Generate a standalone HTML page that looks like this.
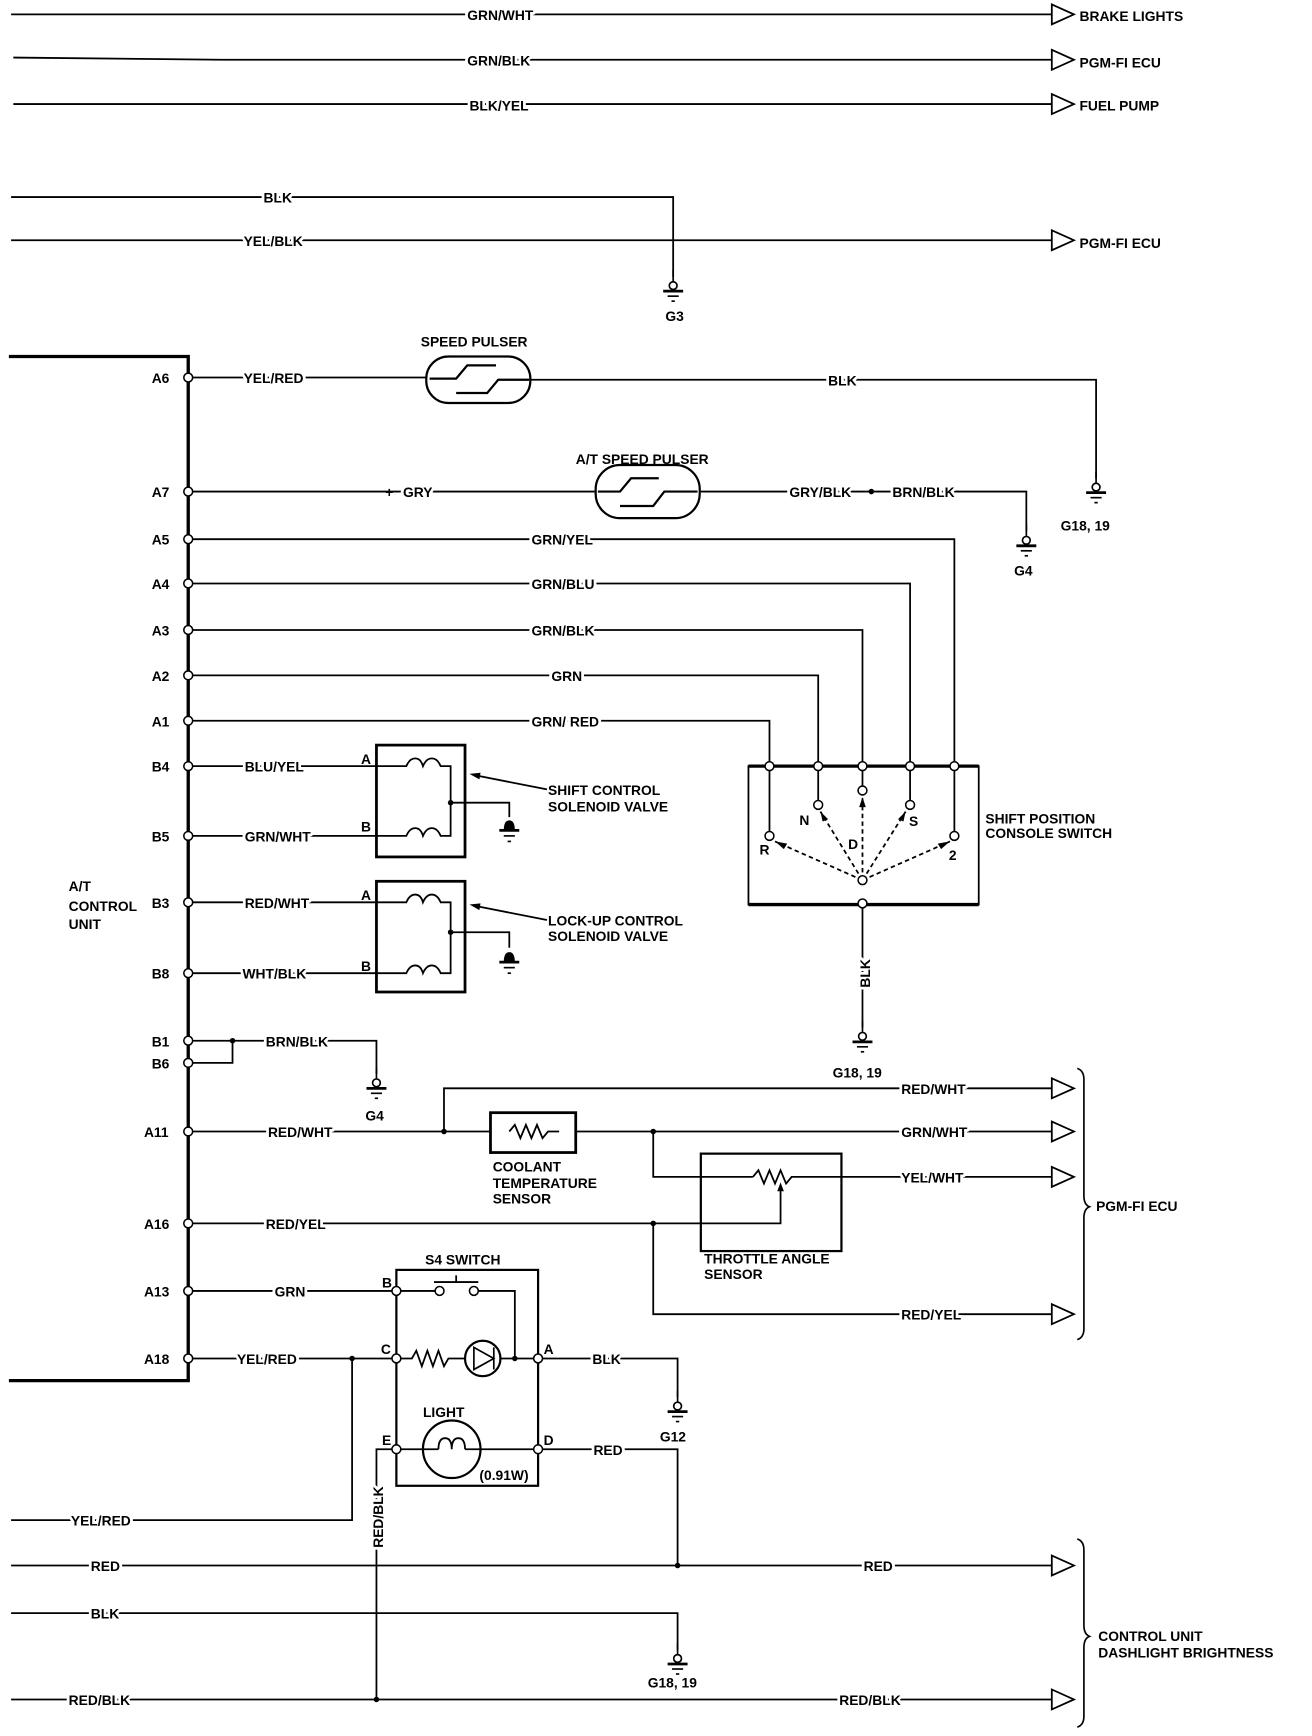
<!DOCTYPE html>
<html><head><meta charset="utf-8"><style>
html,body{margin:0;padding:0;background:#fff;}
svg{display:block;}
text{font-family:"Liberation Sans",sans-serif;font-weight:bold;font-size:12.5px;fill:#000;}
text.l{paint-order:stroke;stroke:#fff;stroke-width:5px;stroke-linejoin:round;}
</style></head><body>
<svg width="1312" height="1736" viewBox="0 0 1185 1568" xmlns="http://www.w3.org/2000/svg">
<defs>
<g id="gnd"><line x1="0" y1="-14" x2="0" y2="-4" stroke="#000" stroke-width="1.5"/><circle cx="0" cy="0" r="3.5" fill="#fff" stroke="#000" stroke-width="1.5"/><line x1="-9" y1="5" x2="9" y2="5" stroke="#000" stroke-width="2.5"/><line x1="-5" y1="9.5" x2="5" y2="9.5" stroke="#000" stroke-width="1.5"/><line x1="-1.5" y1="14" x2="1.5" y2="14" stroke="#000" stroke-width="1.5"/></g>
<g id="gnd2"><path d="M-5 5 Q-5 -4 0 -4 Q5 -4 5 5 Z" fill="#000"/><line x1="-9" y1="5" x2="9" y2="5" stroke="#000" stroke-width="2.5"/><line x1="-5" y1="10" x2="5" y2="10" stroke="#000" stroke-width="1.5"/><line x1="-1.5" y1="15" x2="1.5" y2="15" stroke="#000" stroke-width="1.5"/></g>
<polygon id="arr" points="0,-9 20,0 0,9" fill="#fff" stroke="#000" stroke-width="1.6"/>
<circle id="pin" r="4" fill="#fff" stroke="#000" stroke-width="1.4"/>
<circle id="dot" r="2.5" fill="#000"/>
</defs>
<g stroke="#000" stroke-width="1.6" fill="none">
<path d="M10 13 H950 M12 52 L200 54 H950 M12 94 H950"/>
<path d="M10 178 H608 V250 M10 217 H950"/>
<path d="M8 322 H170 V1247 H8" stroke-width="3"/>
<path d="M170 341 H430 M430 343 H990 V432"/>
<rect x="385" y="322" width="94" height="42" rx="20" fill="#fff" stroke-width="2"/>
<path d="M388 342 H412 L422 330 H448 M412 355 H440 L450 343 H478" stroke-width="2"/>
<path d="M170 444 H537 M633 444 H927 V480"/>
<rect x="538" y="420" width="94" height="48" rx="22" fill="#fff" stroke-width="2"/>
<path d="M540 444 H560 L570 432 H595 M560 457 H590 L600 444 H630" stroke-width="2"/>
<path d="M170 487 H862 V692 M170 527 H822 V692 M170 569 H779 V692 M170 610 H739 V692 M170 651 H695 V692"/>
<path d="M676 692 H884 V817 H676 Z" stroke-width="1.6"/>
<path d="M676 692 H884 M676 817 H884" stroke-width="3"/>
<path d="M739 692 V723 M779 692 V710 M822 692 V723 M862 692 V751 M695 692 V751 M779 816 V928"/>
<g stroke-dasharray="4,3">
<path d="M779 795 L700 760 M779 795 L741 733 M779 795 L779 720 M779 795 L818 733 M779 795 L858 760"/>
</g>
<g fill="#000" stroke="none">
<polygon points="700,760 711,762 708,767"/><polygon points="741,733 748,740 743,742"/><polygon points="779,720 782,729 776,729"/><polygon points="818,733 816,742 811,740"/><polygon points="858,760 850,767 847,762"/>
</g>
<rect x="340" y="673" width="80" height="101" stroke-width="2.5"/>
<path d="M170 692 H367 Q370 685 375 685 Q380 685 382 692 Q385 685 390 685 Q395 685 398 692 H407 V755 H398 Q395 748 390 748 Q385 748 382 755 Q380 748 375 748 Q370 748 367 755 H170"/>
<path d="M407 725 H460 V738"/>
<path d="M494 713 L428 700"/>
<rect x="340" y="796" width="80" height="100" stroke-width="2.5"/>
<path d="M170 815 H367 Q370 808 375 808 Q380 808 382 815 Q385 808 390 808 Q395 808 398 815 H407 V879 H398 Q395 872 390 872 Q385 872 382 879 Q380 872 375 872 Q370 872 367 879 H170"/>
<path d="M407 842 H460 V856"/>
<path d="M494 831 L428 818"/>
<g fill="#000" stroke="none"><polygon points="424,699 434,698 433,704"/><polygon points="424,817 434,816 433,822"/></g>
<path d="M170 940 H210 V960 H170 M210 940 H340 V970"/>
<path d="M170 1022 H443 M401 1022 V983 H950 M520 1022 H950 M590 1022 V1063 H633 M760 1063 H950"/>
<rect x="443" y="1005" width="77" height="36" stroke-width="2.5"/>
<path d="M460 1022 L465 1016 L470 1028 L475 1016 L480 1028 L485 1016 L490 1028 L495 1022 H505"/>
<rect x="633" y="1042" width="127" height="88" stroke-width="2"/>
<path d="M680 1063 L685 1057 L690 1069 L695 1057 L700 1069 L705 1057 L710 1069 L715 1063 H760 M633 1063 H680"/>
<path d="M170 1105 H705 V1072 M590 1105 V1187 H950"/>
<polygon points="705,1068 702,1076 708,1076" fill="#000" stroke="none"/>
<rect x="358" y="1147" width="128" height="195" stroke-width="2"/>
<path d="M170 1166 H358 M170 1227 H358"/>
<path d="M358 1166 H397 M428 1166 H465 V1227 M392 1158 H432 M412 1158 V1152" />
<path d="M358 1227 H372 L376 1220 L381 1234 L386 1220 L391 1234 L396 1220 L401 1234 L405 1227 H420 M452 1227 H486"/>
<circle cx="436" cy="1227" r="16" stroke-width="2"/>
<path d="M428 1217 V1237 L446 1227 Z M446 1217 V1237" stroke-width="1.5"/>
<path d="M486 1227 H612 V1262"/>
<path d="M318 1227 V1373 H10"/>
<circle cx="408" cy="1309" r="26" stroke-width="2"/>
<path d="M358 1309 H396 M420 1309 H486 M396 1309 Q396 1299 402 1299 Q408 1299 408 1309 Q408 1299 414 1299 Q420 1299 420 1309"/>
<path d="M486 1309 H612 V1414 M358 1309 H340 V1535"/>
<path d="M10 1414 H950 M10 1457 H612 V1490 M10 1535 H950"/>
<path d="M973 965 Q979 967 979 975 V1080 Q979 1088 984 1090 Q979 1092 979 1100 V1200 Q979 1208 973 1210" stroke-width="1.5"/>
<path d="M973 1390 Q979 1392 979 1400 V1468 Q979 1476 984 1478 Q979 1480 979 1488 V1550 Q979 1558 973 1560" stroke-width="1.5"/>
</g>
<use href="#arr" x="950" y="13"/><use href="#arr" x="950" y="54"/><use href="#arr" x="950" y="94"/><use href="#arr" x="950" y="217"/>
<use href="#arr" x="950" y="983"/><use href="#arr" x="950" y="1022"/><use href="#arr" x="950" y="1063"/><use href="#arr" x="950" y="1187"/>
<use href="#arr" x="950" y="1414"/><use href="#arr" x="950" y="1535"/>
<use href="#gnd" x="608" y="258"/><use href="#gnd" x="990" y="440"/><use href="#gnd" x="927" y="488"/>
<use href="#gnd" x="779" y="936"/><use href="#gnd" x="340" y="978"/><use href="#gnd" x="612" y="1270"/><use href="#gnd" x="612" y="1498"/>
<use href="#gnd2" x="460" y="745"/><use href="#gnd2" x="460" y="864"/>
<g>
<use href="#pin" x="170" y="341"/><use href="#pin" x="170" y="444"/><use href="#pin" x="170" y="487"/><use href="#pin" x="170" y="527"/>
<use href="#pin" x="170" y="569"/><use href="#pin" x="170" y="610"/><use href="#pin" x="170" y="651"/><use href="#pin" x="170" y="692"/>
<use href="#pin" x="170" y="755"/><use href="#pin" x="170" y="815"/><use href="#pin" x="170" y="879"/><use href="#pin" x="170" y="940"/>
<use href="#pin" x="170" y="960"/><use href="#pin" x="170" y="1022"/><use href="#pin" x="170" y="1105"/><use href="#pin" x="170" y="1166"/>
<use href="#pin" x="170" y="1227"/>
<use href="#pin" x="695" y="692"/><use href="#pin" x="739" y="692"/><use href="#pin" x="779" y="692"/><use href="#pin" x="822" y="692"/><use href="#pin" x="862" y="692"/>
<use href="#pin" x="739" y="727"/><use href="#pin" x="779" y="714"/><use href="#pin" x="822" y="727"/><use href="#pin" x="695" y="755"/><use href="#pin" x="862" y="755"/>
<use href="#pin" x="779" y="795"/><use href="#pin" x="779" y="816"/>
<use href="#pin" x="358" y="1166"/><use href="#pin" x="358" y="1227"/><use href="#pin" x="486" y="1227"/><use href="#pin" x="358" y="1309"/><use href="#pin" x="486" y="1309"/>
<use href="#pin" x="397" y="1166"/><use href="#pin" x="428" y="1166"/>
</g>
<use href="#dot" x="787" y="444"/><use href="#dot" x="407" y="725"/><use href="#dot" x="407" y="842"/><use href="#dot" x="210" y="940"/>
<use href="#dot" x="401" y="1022"/><use href="#dot" x="590" y="1022"/><use href="#dot" x="590" y="1105"/><use href="#dot" x="318" y="1227"/>
<use href="#dot" x="465" y="1227"/><use href="#dot" x="612" y="1414"/><use href="#dot" x="340" y="1535"/>
<g>
<text class="l" x="422" y="18">GRN/WHT</text>
<text class="l" x="422" y="59">GRN/BLK</text>
<text class="l" x="424" y="100">BLK/YEL</text>
<text x="975" y="19">BRAKE LIGHTS</text><text x="975" y="61">PGM-FI ECU</text><text x="975" y="100">FUEL PUMP</text>
<text class="l" x="238" y="183">BLK</text>
<text class="l" x="220" y="222">YEL/BLK</text>
<text x="975" y="224">PGM-FI ECU</text>
<text x="601" y="290">G3</text>
<text x="380" y="313">SPEED PULSER</text>
<text class="l" x="220" y="346">YEL/RED</text>
<text class="l" x="748" y="348">BLK</text>
<text x="958" y="479">G18, 19</text>
<text x="520" y="419">A/T SPEED PULSER</text>
<text class="l" x="364" y="449">GRY</text>
<text x="348" y="449" font-size="9">+</text>
<text class="l" x="713" y="449" font-size="11.5">GRY/BLK</text>
<text class="l" x="806" y="449" font-size="11.5">BRN/BLK</text>
<text x="916" y="520">G4</text>
<text class="l" x="480" y="492">GRN/YEL</text>
<text class="l" x="480" y="532">GRN/BLU</text>
<text class="l" x="480" y="574">GRN/BLK</text>
<text class="l" x="498" y="615">GRN</text>
<text class="l" x="480" y="656">GRN/ RED</text>
<text x="137" y="346">A6</text><text x="137" y="449">A7</text><text x="137" y="492">A5</text><text x="137" y="532">A4</text>
<text x="137" y="574">A3</text><text x="137" y="615">A2</text><text x="137" y="656">A1</text><text x="137" y="697">B4</text>
<text x="137" y="760">B5</text><text x="137" y="820">B3</text><text x="137" y="884">B8</text><text x="137" y="945">B1</text>
<text x="137" y="965">B6</text><text x="130" y="1027">A11</text><text x="130" y="1110">A16</text><text x="130" y="1171">A13</text><text x="130" y="1232">A18</text>
<text x="62" y="805">A/T</text><text x="62" y="823">CONTROL</text><text x="62" y="839">UNIT</text>
<text class="l" x="221" y="697">BLU/YEL</text>
<text class="l" x="221" y="760">GRN/WHT</text>
<text class="l" x="221" y="820">RED/WHT</text>
<text class="l" x="219" y="884">WHT/BLK</text>
<text x="326" y="690">A</text><text x="326" y="751">B</text><text x="326" y="813">A</text><text x="326" y="877">B</text>
<text x="495" y="718">SHIFT CONTROL</text><text x="495" y="733">SOLENOID VALVE</text>
<text x="495" y="836">LOCK-UP CONTROL</text><text x="495" y="850">SOLENOID VALVE</text>
<text x="686" y="772">R</text><text x="722" y="745">N</text><text x="766" y="767">D</text><text x="821" y="746">S</text><text x="857" y="777">2</text>
<text x="890" y="744">SHIFT POSITION</text><text x="890" y="757">CONSOLE SWITCH</text>
<text class="l" transform="translate(786,892) rotate(-90)">BLK</text>
<text x="752" y="973">G18, 19</text>
<text class="l" x="240" y="945">BRN/BLK</text>
<text x="330" y="1012">G4</text>
<text class="l" x="242" y="1027">RED/WHT</text>
<text class="l" x="814" y="988">RED/WHT</text>
<text class="l" x="814" y="1027">GRN/WHT</text>
<text class="l" x="814" y="1068">YEL/WHT</text>
<text class="l" x="814" y="1192">RED/YEL</text>
<text x="445" y="1058">COOLANT</text><text x="445" y="1073">TEMPERATURE</text><text x="445" y="1087">SENSOR</text>
<text x="636" y="1141">THROTTLE ANGLE</text><text x="636" y="1155">SENSOR</text>
<text x="990" y="1094">PGM-FI ECU</text>
<text class="l" x="240" y="1110">RED/YEL</text>
<text x="384" y="1142">S4 SWITCH</text>
<text class="l" x="248" y="1171">GRN</text>
<text class="l" x="214" y="1232">YEL/RED</text>
<text x="345" y="1163">B</text><text x="344" y="1223">C</text><text x="491" y="1223">A</text><text x="345" y="1305">E</text><text x="491" y="1305">D</text>
<text class="l" x="535" y="1232">BLK</text>
<text x="596" y="1302">G12</text>
<text x="382" y="1280">LIGHT</text>
<text x="433" y="1337">(0.91W)</text>
<text class="l" x="536" y="1314">RED</text>
<text class="l" transform="translate(346,1398) rotate(-90)">RED/BLK</text>
<text class="l" x="64" y="1378">YEL/RED</text>
<text class="l" x="82" y="1419">RED</text>
<text class="l" x="780" y="1419">RED</text>
<text class="l" x="82" y="1462">BLK</text>
<text x="585" y="1524">G18, 19</text>
<text class="l" x="62" y="1540">RED/BLK</text>
<text class="l" x="758" y="1540">RED/BLK</text>
<text x="992" y="1482">CONTROL UNIT</text><text x="992" y="1497" font-size="12">DASHLIGHT BRIGHTNESS</text>
</g>
</svg>
</body></html>
